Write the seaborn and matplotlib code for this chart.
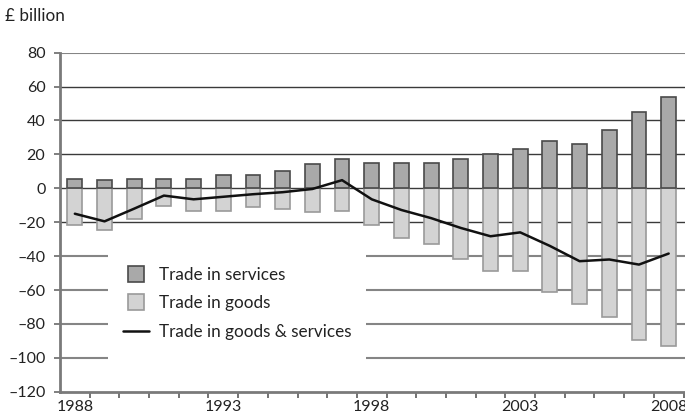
import numpy as np
import pandas as pd
import matplotlib
matplotlib.use("Agg")
import matplotlib.pyplot as plt
from matplotlib.lines import Line2D
from matplotlib.patches import Rectangle
import seaborn as sns

# UK trade balance, £ billion
years = list(range(1988, 2009))
services = [5.5, 5, 5.5, 5.5, 5.5, 8, 8, 10.5, 14.5, 17, 15, 15, 15, 17,
            20, 23, 28, 26, 34.5, 45, 54]
goods = [-21.5, -24.5, -18, -10.5, -13.5, -13.5, -11, -12.5, -14, -13.5,
         -21.5, -29.5, -33, -41.5, -48.5, -48.5, -61, -68.5, -76, -89.5, -93]
balance = [-15, -19.5, -12, -4.3, -6.5, -5, -3.5, -2.3, -0.4, 4.8, -6.5,
           -12.8, -17.6, -23.4, -28.3, -26, -34, -43, -42, -45, -38.5]
year_labels = [1988, 1993, 1998, 2003, 2008]
y_ticks = [80, 60, 40, 20, 0, -20, -40, -60, -80, -100, -120]

sns.set_style("white")
plt.rcParams["font.family"] = ["Lato", "DejaVu Sans"]
plt.rcParams["axes.unicode_minus"] = True

df = pd.DataFrame({"year": [str(y) for y in years], "services": services,
                   "goods": goods, "balance": balance})
df["pos"] = np.arange(len(df))

W, H = 685, 420
fig = plt.figure(figsize=(W / 100, H / 100), dpi=100)
ax = fig.add_axes([60 / W, (H - 391.7) / H, (W - 60) / W, (391.7 - 52.7) / H])

c_serv, e_serv = "#a9a9a9", "#4a4a4a"
c_good, e_good = "#d3d3d3", "#9a9a9a"

sns.barplot(data=df, x="year", y="goods", color=c_good, edgecolor=e_good,
            linewidth=1.2, width=0.5, saturation=1, ax=ax, zorder=3)
sns.barplot(data=df, x="year", y="services", color=c_serv, edgecolor=e_serv,
            linewidth=1.2, width=0.5, saturation=1, ax=ax, zorder=3)
sns.lineplot(data=df, x="pos", y="balance", color="#111111", lw=1.8,
             ax=ax, zorder=4)

ax.set_xlim(-0.5, len(years) - 0.45)
ax.set_ylim(-120, 80)

# horizontal grid lines
for yv in y_ticks[:-1]:
    light = yv == 80 or yv <= -40
    ax.axhline(yv, color="#858585" if light else "#3a3a3a",
               lw=1.5 if light else 1.0, zorder=1)

# blank panel behind the legend
ax.add_patch(Rectangle((0.077, 0.079), 0.413, 0.345, transform=ax.transAxes,
                       facecolor="white", edgecolor="none", zorder=2))

ax.set_yticks(y_ticks)
ax.set_yticklabels([f"{v}".replace("-", "\u2013") for v in y_ticks])
ax.tick_params(axis="y", length=4.5, width=1.2, color="#6a6a6a", pad=6,
               labelsize=11.5, labelcolor="#222222", left=True)

pos_of = {y: i for i, y in enumerate(years)}
ax.set_xticks([pos_of[y] for y in year_labels])
ax.set_xticklabels([str(y) for y in year_labels])
ax.set_xticks(np.arange(0.5, len(years), 1.0), minor=True)
ax.tick_params(axis="x", which="major", length=0, pad=6, labelsize=11.5,
               labelcolor="#222222")
ax.tick_params(axis="x", which="minor", length=4, width=1.2,
               color="#5a5a5a", bottom=True, direction="out")
ax.set_xlabel("")
ax.set_ylabel("")

for s in ["top", "right"]:
    ax.spines[s].set_visible(False)
for s in ["left", "bottom"]:
    ax.spines[s].set_color("#7a7a7a")
    ax.spines[s].set_linewidth(2)
    ax.spines[s].set_zorder(5)

handles = [
    Line2D([], [], marker="s", ls="none", markersize=11,
           markerfacecolor=c_serv, markeredgecolor=e_serv, markeredgewidth=1.2),
    Line2D([], [], marker="s", ls="none", markersize=11,
           markerfacecolor=c_good, markeredgecolor=e_good, markeredgewidth=1.2),
    Line2D([], [], color="#111111", lw=1.8),
]
labels = ["Trade in services", "Trade in goods", "Trade in goods & services"]
ax.legend(handles, labels, loc="upper left", bbox_to_anchor=(0.1, 0.368),
          frameon=False, fontsize=12.3, handlelength=1.55, handletextpad=0.6,
          labelspacing=0.72, borderpad=0, borderaxespad=0,
          labelcolor="#222222")

fig.text(5 / W, 1 - 16 / H, "£ billion", fontsize=12.3, color="#222222",
         va="center", ha="left")

fig.savefig("out.png", dpi=100)
